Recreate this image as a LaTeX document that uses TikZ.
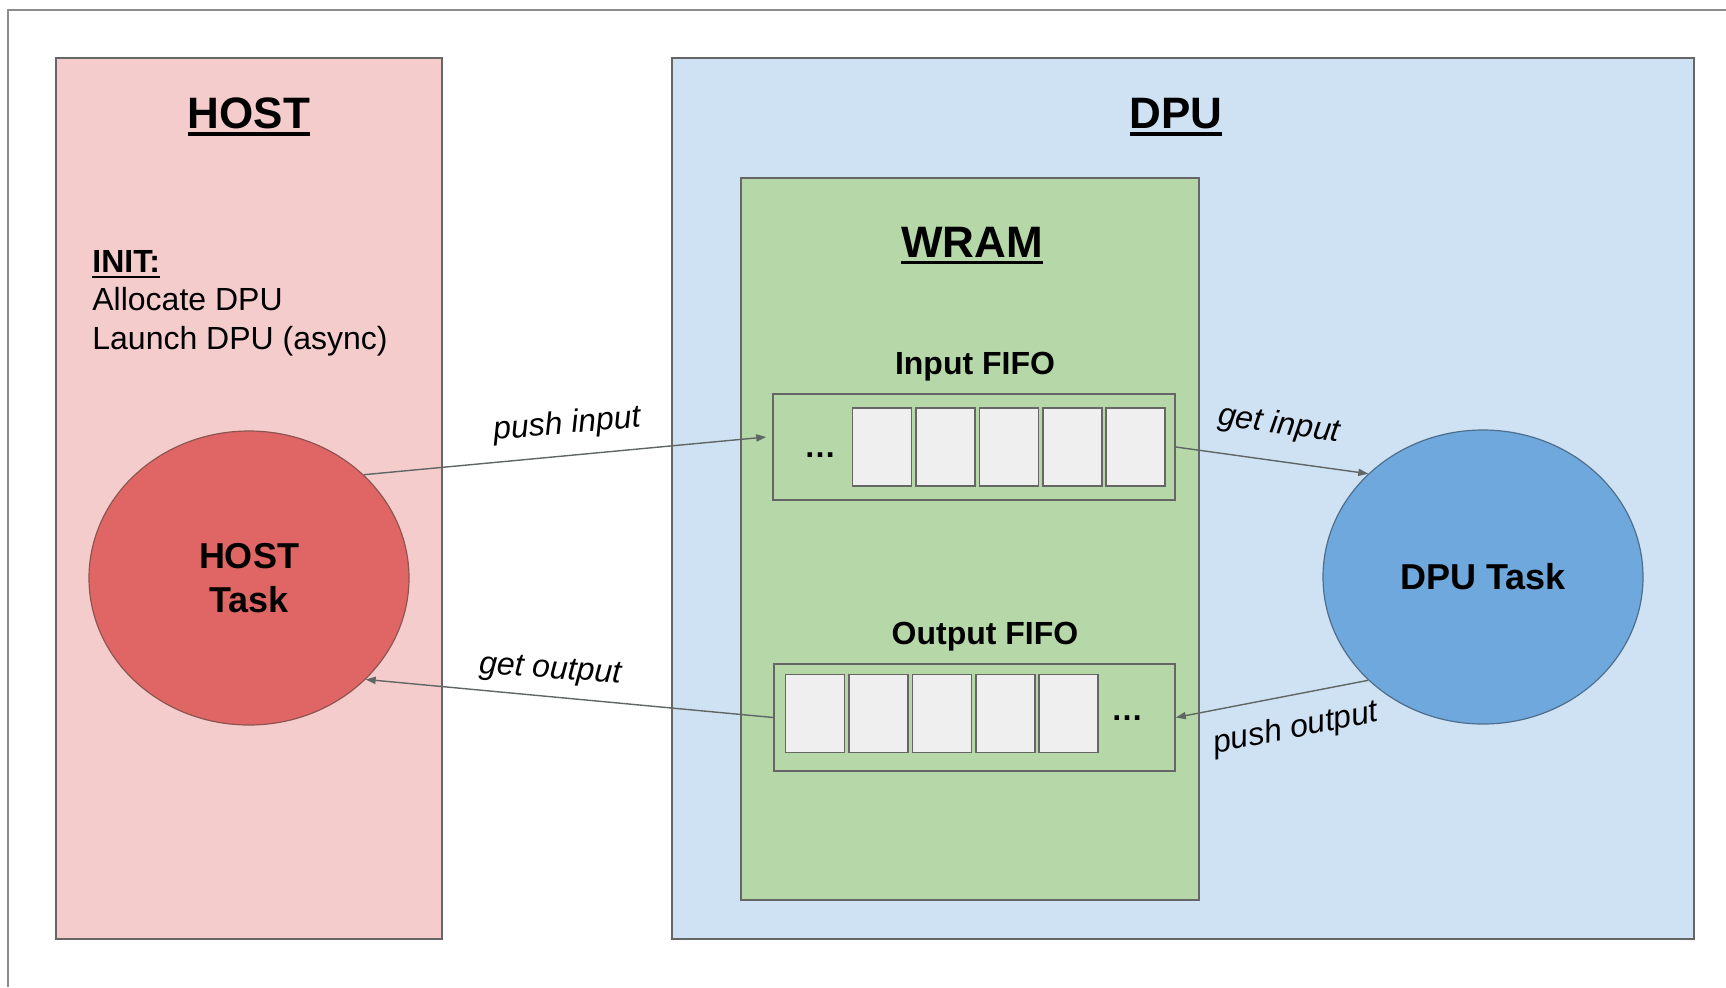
\documentclass[tikz,border=0pt]{standalone}
\usepackage{fontspec}
\setmainfont{Liberation Sans}
\usetikzlibrary{arrows.meta,positioning,shapes.geometric,fit}
\definecolor{hostpink}{HTML}{F4CCCC}
\definecolor{dpublue}{HTML}{CFE2F3}
\definecolor{wramgreen}{HTML}{B6D7A8}
\definecolor{slotgray}{HTML}{EFEFEF}
\definecolor{hostred}{HTML}{E06666}
\definecolor{hostrim}{HTML}{8E5550}
\definecolor{dpuball}{HTML}{6FA8DC}
\definecolor{dpurim}{HTML}{4F6E8C}
\definecolor{edgegray}{HTML}{666666}
\definecolor{arrowgray}{HTML}{5F6664}
\definecolor{framegray}{HTML}{8C8C8C}
\newcommand{\thickul}[2][1.6pt]{\vtop{\hbox{#2}\kern2pt\hrule height #1}}

\begin{document}
\begin{tikzpicture}[x=0.5pt,y=-0.5pt,node distance=1.4pt,
 area/.style={draw=edgegray,line width=1pt,inner sep=0pt},
 title/.style={font=\fontsize{22}{26}\selectfont\bfseries,anchor=base,inner sep=0pt},
 fifolabel/.style={font=\fontsize{16}{19}\selectfont\bfseries,anchor=base,inner sep=0pt},
 slot/.style={draw=edgegray,fill=slotgray,line width=0.8pt,minimum width=29.5pt,minimum height=39pt,inner sep=0pt},
 task/.style={ellipse,line width=0.6pt,minimum width=160pt,minimum height=147pt,inner sep=0pt,align=center,font=\fontsize{18}{22}\selectfont\bfseries},
 flow/.style={-{Triangle[length=5pt,width=3.6pt]},color=arrowgray,line width=0.7pt},
 lbl/.style={font=\fontsize{16}{19}\selectfont\itshape,inner sep=0pt}]
\useasboundingbox (0,0) rectangle (1726,987);
\draw[framegray,line width=1pt] (8,987) -- (8,10) -- (1726,10);
% containers
\node[area,fill=hostpink,fit={(56,58) (442,939)}] (host) {};
\node[area,fill=dpublue,fit={(672,58) (1694,939)}] (dpu) {};
\node[area,fill=wramgreen,fit={(741,178) (1199,900)}] (wram) {};
\node[title] (hosttitle) at (249,128) {\thickul{HOST}};
\node[title] (dputitle) at (1176,128) {\thickul{DPU}};
\node[title] (wramtitle) at (972,257) {\thickul{WRAM}};
\node[anchor=base west,align=left,inner sep=0pt,font=\fontsize{16}{19.25}\selectfont] (init) at (92,349)
 {\textbf{\thickul[1pt]{INIT:}}\\Allocate DPU\\Launch DPU (async)};
% fifos
\node[area,line width=0.8pt,fit={(773,394) (1175,500)}] (infifo) {};
\node[fifolabel] (inlabel) at (975,374) {Input FIFO};
\node[slot] (in1) at (882,447) {};
\foreach \i [count=\j from 2] in {1,...,4}
  \node[slot,right=of in\i] (in\j) {};
\node[anchor=base,font=\fontsize{16}{19}\selectfont\bfseries] (indots) at (820,457) {\dots};
\node[area,line width=0.8pt,fit={(774,664) (1175,771)}] (outfifo) {};
\node[fifolabel] (outlabel) at (985,644) {Output FIFO};
\node[slot] (out1) at (815,713.5) {};
\foreach \i [count=\j from 2] in {1,...,4}
  \node[slot,right=of out\i] (out\j) {};
\node[anchor=base,font=\fontsize{16}{19}\selectfont\bfseries] (outdots) at (1127,720) {\dots};
% tasks
\node[task,fill=hostred,draw=hostrim] (htask) at (249,578) {HOST\\Task};
\node[task,fill=dpuball,draw=dpurim] (dtask) at (1483,577) {DPU Task};
\draw[flow] (htask.42) -- ([shift={(-6,-10)}]infifo.west);
\draw[flow] (infifo.east) -- (dtask.138);
\draw[flow] (dtask.222) -- (outfifo.east);
\draw[flow] (outfifo.west) -- (htask.-41);
\node[lbl,rotate=5] (pushin) at (567,425) {push input};
\node[lbl,rotate=-8] (getin) at (1279,425) {get input};
\node[lbl,rotate=11] (pushout) at (1296,729) {push output};
\node[lbl,rotate=-4] (getout) at (550,671) {get output};
\end{tikzpicture}
\end{document}
